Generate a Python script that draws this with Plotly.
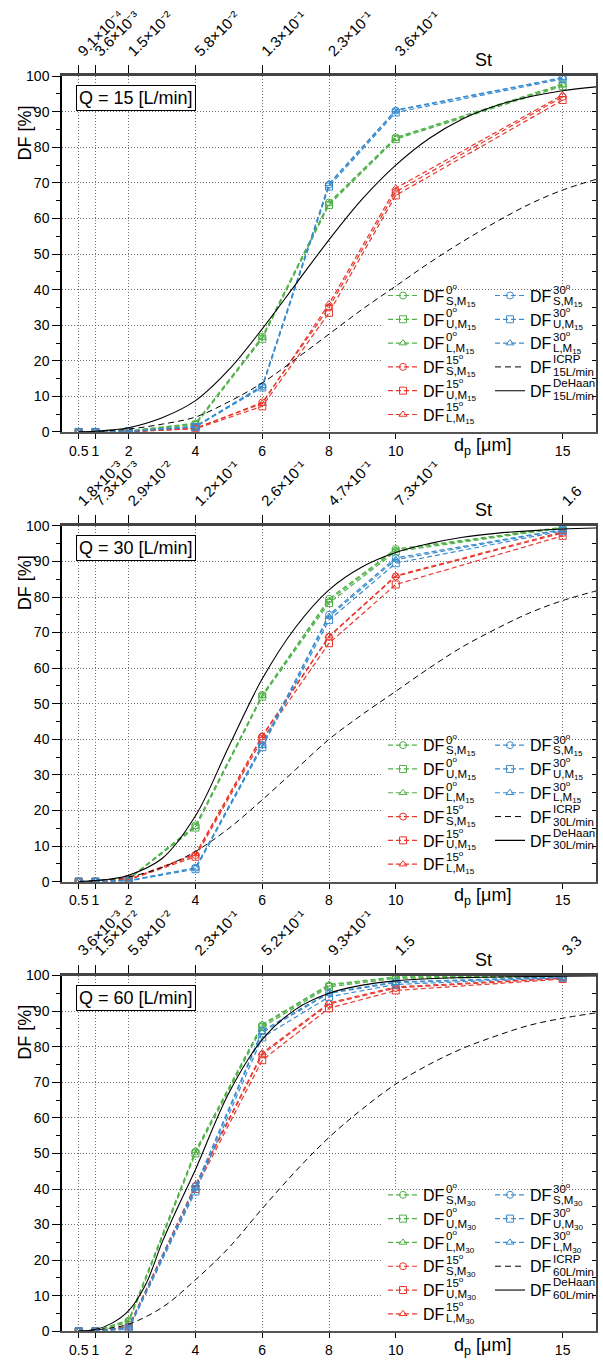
import plotly.graph_objects as go

W, H = 603, 1366
FONT = "Liberation Sans, Arial, Helvetica, sans-serif"

# ---------------- data ----------------
dp_ticks = [0.5, 1, 2, 4, 6, 8, 10, 15]
dp_tick_labels = ["0.5", "1", "2", "4", "6", "8", "10", "15"]
dp_meas = [0.5, 1, 2, 4, 6, 8, 10, 15]
dp_model = [0.5, 1, 1.5, 2, 3, 4, 5, 6, 7, 8, 9, 10, 11, 12, 13, 14, 15, 16]
dp_model_60 = [0.5, 1, 1.5, 2, 2.5, 3, 3.5, 4, 5, 6, 7, 8, 9, 10, 11, 12, 13, 14, 15, 16]

st_15 = ["9.1×10⁻⁴", "3.6×10⁻³", "1.5×10⁻²", "5.8×10⁻²",
         "1.3×10⁻¹", "2.3×10⁻¹", "3.6×10⁻¹", "8.2×10⁻¹"]
st_30 = ["1.8×10⁻³", "7.3×10⁻³", "2.9×10⁻²", "1.2×10⁻¹",
         "2.6×10⁻¹", "4.7×10⁻¹", "7.3×10⁻¹", "1.6"]
st_60 = ["3.6×10⁻³", "1.5×10⁻²", "5.8×10⁻²", "2.3×10⁻¹",
         "5.2×10⁻¹", "9.3×10⁻¹", "1.5", "3.3"]

# Q = 15 L/min
df15_0S = [0, 0, 0.3, 2.3, 26.8, 64.5, 82.8, 97.8]
df15_0U = [0, 0, 0.2, 2.0, 26.2, 63.8, 82.3, 97.2]
df15_0L = [0, 0, 0.3, 2.5, 26.5, 64.2, 82.5, 97.5]
df15_15S = [0, 0, 0.1, 1.0, 8.3, 35.0, 67.5, 94.2]
df15_15U = [0, 0, 0.1, 0.9, 7.2, 33.5, 66.5, 93.3]
df15_15L = [0, 0, 0.1, 1.1, 8.0, 36.0, 68.5, 94.7]
df15_30S = [0, 0, 0.2, 1.5, 12.8, 69.5, 90.3, 99.5]
df15_30U = [0, 0, 0.2, 1.4, 12.5, 69.0, 89.8, 99.2]
df15_30L = [0, 0, 0.2, 1.6, 13.0, 69.8, 90.5, 99.6]
icrp_15 = [0.0, 0.1, 0.4, 0.8, 2.2, 4.2, 8.5, 13.8, 20.5, 27.5, 34.5, 41.0, 47.5, 53.5, 59.0, 64.0, 68.0, 71.0]
dehaan_15 = [0.0, 0.2, 0.6, 1.2, 4.0, 8.8, 17.5, 29.0, 41.5, 54.0, 65.5, 75.0, 82.5, 88.0, 91.7, 94.2, 95.9, 97.0]

# Q = 30 L/min
df30_0S = [0, 0, 0.8, 15.8, 52.5, 79.5, 93.5, 99.6]
df30_0U = [0, 0, 0.7, 15.2, 52.0, 78.3, 92.8, 99.4]
df30_0L = [0, 0, 0.8, 15.5, 52.3, 79.0, 93.2, 99.5]
df30_15S = [0, 0, 0.6, 7.5, 40.8, 68.8, 85.8, 98.0]
df30_15U = [0, 0, 0.5, 7.0, 40.0, 67.0, 83.5, 97.2]
df30_15L = [0, 0, 0.6, 7.8, 41.0, 69.0, 86.0, 98.3]
df30_30S = [0, 0, 0.3, 3.9, 38.5, 75.0, 91.0, 99.0]
df30_30U = [0, 0, 0.2, 3.5, 37.8, 73.5, 89.5, 98.6]
df30_30L = [0, 0, 0.3, 3.8, 38.2, 74.5, 90.5, 98.9]
icrp_30 = [0.0, 0.3, 0.7, 1.3, 4.0, 8.5, 15.0, 23.0, 31.5, 40.0, 47.0, 53.5, 60.0, 66.0, 71.0, 75.5, 79.0, 81.7]
dehaan_30 = [0.0, 0.3, 0.8, 1.8, 6.5, 18.5, 38.0, 57.0, 71.5, 82.0, 88.5, 92.5, 95.0, 96.8, 97.9, 98.6, 99.1, 99.4]

# Q = 60 L/min
df60_0S = [0, 0.1, 3.0, 50.5, 86.0, 97.2, 99.5, 99.8]
df60_0U = [0, 0.1, 2.5, 50.0, 85.5, 96.8, 99.2, 99.7]
df60_0L = [0, 0.1, 3.2, 50.8, 86.3, 97.5, 99.6, 99.9]
df60_15S = [0, 0, 1.3, 40.8, 77.8, 92.0, 96.5, 99.2]
df60_15U = [0, 0, 1.0, 40.0, 76.2, 90.8, 95.8, 99.0]
df60_15L = [0, 0, 1.4, 41.2, 78.2, 92.3, 96.8, 99.3]
df60_30S = [0, 0, 1.2, 40.8, 84.5, 95.2, 98.2, 99.6]
df60_30U = [0, 0, 0.6, 39.3, 82.6, 94.0, 97.5, 99.4]
df60_30L = [0, 0, 1.0, 40.2, 84.0, 95.0, 98.0, 99.5]
icrp_60 = [0.0, 0.4, 1.0, 2.0, 6.7, 14.5, 23.5, 34.5, 45.0, 54.5, 62.5, 69.5, 75.0, 79.5, 83.0, 86.0, 88.0, 89.5]
dehaan_60 = [0.1, 0.5, 2.3, 5.8, 13.0, 25.0, 35.5, 45.5, 67.0, 82.0, 90.5, 95.0, 97.3, 98.5, 99.1, 99.4, 99.6, 99.7, 99.8, 99.9]

flow_rates = ["15", "30", "60"]
model_sub = ["15", "15", "30"]

# ---------------- style ----------------
GREEN = "#52b24a"
RED = "#e8372c"
BLUE = "#3a8cce"
GRID = "#6f6f6f"
GRID_DASH = "1px,2px"
PX_PLOT_L, PX_PLOT_R = 62, 596
PANEL_TOP, PANEL_BOT, PANEL_STEP = 69, 429, 455
LEG_FONT = 16
ROW_H = LEG_FONT * 1.3 + 3


def px_x(px):
    return px / W


def px_y(py):
    return 1 - py / H


panels = [
    dict(st=st_15, ang0=[df15_0S, df15_0U, df15_0L], ang15=[df15_15S, df15_15U, df15_15L],
         ang30=[df15_30S, df15_30U, df15_30L], icrp=(dp_model, icrp_15), dehaan=(dp_model, dehaan_15)),
    dict(st=st_30, ang0=[df30_0S, df30_0U, df30_0L], ang15=[df30_15S, df30_15U, df30_15L],
         ang30=[df30_30S, df30_30U, df30_30L], icrp=(dp_model, icrp_30), dehaan=(dp_model, dehaan_30)),
    dict(st=st_60, ang0=[df60_0S, df60_0U, df60_0L], ang15=[df60_15S, df60_15U, df60_15L],
         ang30=[df60_30S, df60_30U, df60_30L], icrp=(dp_model, icrp_60), dehaan=(dp_model_60, dehaan_60)),
]

fig = go.Figure()
layout = dict(
    width=W, height=H, margin=dict(l=0, r=0, t=0, b=0),
    paper_bgcolor="white", plot_bgcolor="white",
    font=dict(family=FONT, size=14, color="black"),
    showlegend=True,
)
annotations = []
shapes = []

symbols = ["circle-open", "square-open", "triangle-up-open"]
positions = ["S", "U", "L"]

for k, p in enumerate(panels):
    i = k + 1
    xs = "" if i == 1 else str(i)
    xname, yname = "x" + xs, "y" + xs
    top_x, right_y = "x" + str(i + 3), "y" + str(i + 3)
    top = PANEL_TOP + k * PANEL_STEP
    bot = PANEL_BOT + k * PANEL_STEP
    ydom = [px_y(bot), px_y(top)]
    xdom = [px_x(PX_PLOT_L), px_x(PX_PLOT_R)]
    leg1 = "legend" if k == 0 else "legend" + str(2 * k + 1)
    leg2 = "legend" + str(2 * k + 2)

    layout["xaxis" + xs] = dict(
        domain=xdom, anchor=yname, range=[0, 16], tickmode="array", tickvals=dp_ticks,
        ticktext=dp_tick_labels, ticks="outside", ticklen=5, tickcolor="black",
        showgrid=True, gridcolor=GRID, griddash=GRID_DASH, gridwidth=1, zeroline=False,
        showline=True, linecolor="#555", linewidth=2, tickfont=dict(size=14),
    )
    layout["yaxis" + xs] = dict(
        domain=ydom, anchor=xname, range=[0, 100], dtick=10, tick0=0, ticks="outside",
        ticklen=8, tickcolor="black", showgrid=True, gridcolor=GRID, griddash=GRID_DASH,
        gridwidth=1, zeroline=False, showline=True, linecolor="black", linewidth=1.5,
        tickfont=dict(size=14),
        minor=dict(ticks="outside", ticklen=4, dtick=5, tickcolor="black", showgrid=False),
    )
    layout["xaxis" + str(i + 3)] = dict(
        overlaying=xname, anchor=yname, side="top", range=[0, 16], tickmode="array",
        tickvals=dp_ticks, ticktext=p["st"], tickangle=-45, ticks="outside", ticklen=8,
        tickcolor="black", showgrid=False, zeroline=False, showline=True,
        linecolor="#444", linewidth=2.5, tickfont=dict(size=15),
    )
    layout["yaxis" + str(i + 3)] = dict(
        overlaying=yname, anchor=xname, side="right", range=[0, 100], dtick=5, tick0=0,
        ticks="inside", ticklen=4, tickcolor="black", showticklabels=False, showgrid=False,
        zeroline=False, showline=True, linecolor="#444", linewidth=2,
    )
    # empty traces so that the top St axis and the right axis are drawn
    fig.add_trace(go.Scatter(x=[None], y=[None], xaxis=top_x, yaxis=yname, showlegend=False,
                             hoverinfo="skip", mode="lines"))
    fig.add_trace(go.Scatter(x=[None], y=[None], xaxis=xname, yaxis=right_y, showlegend=False,
                             hoverinfo="skip", mode="lines"))

    # measured series
    groups = [("0", GREEN, p["ang0"], leg1), ("15", RED, p["ang15"], leg1), ("30", BLUE, p["ang30"], leg2)]
    for ang, color, series, leg in groups:
        for pos, sym, vals in zip(positions, symbols, series):
            fig.add_trace(go.Scatter(
                x=dp_meas, y=vals, mode="lines+markers", name="DF", legend=leg,
                xaxis=xname, yaxis=yname,
                line=dict(color=color, width=1.2, dash="5px,3px"),
                marker=dict(symbol=sym, size=7, color=color, line=dict(width=1, color=color)),
            ))
    fig.add_trace(go.Scatter(
        x=p["icrp"][0], y=p["icrp"][1], mode="lines", name="DF", legend=leg2,
        xaxis=xname, yaxis=yname, line=dict(color="black", width=1, dash="6px,4px", shape="spline"),
    ))
    fig.add_trace(go.Scatter(
        x=p["dehaan"][0], y=p["dehaan"][1], mode="lines", name="DF", legend=leg2,
        xaxis=xname, yaxis=yname, line=dict(color="black", width=1.1, shape="spline"),
    ))

    # legends (two columns)
    row1 = 290.7 + k * PANEL_STEP
    box_top = row1 - 5 - ROW_H / 2
    col_left = [383, 490]
    for leg, cl in zip([leg1, leg2], col_left):
        layout[leg] = dict(
            x=px_x(cl), y=px_y(box_top), xanchor="left", yanchor="top",
            bgcolor="rgba(0,0,0,0)", borderwidth=0, font=dict(size=LEG_FONT, family=FONT),
            itemwidth=30, tracegroupgap=0, orientation="v",
        )
    q = flow_rates[k]
    m = model_sub[k]
    col1_scripts = [(f"{a}<sup>o</sup>", f"{s},M<sub>{m}</sub>") for a in ["0", "15"] for s in positions]
    col2_scripts = [(f"30<sup>o</sup>", f"{s},M<sub>{m}</sub>") for s in positions]
    col2_scripts += [("ICRP", f"{q}L/min"), ("DeHaan", f"{q}L/min")]
    for cl, scripts in zip(col_left, [col1_scripts, col2_scripts]):
        xs_px = cl + 40 + 21.5
        for j, (sup, sub) in enumerate(scripts):
            c = row1 + j * ROW_H
            annotations.append(dict(
                x=px_x(xs_px), y=px_y(c - 6.5), xref="paper", yref="paper", text=sup,
                showarrow=False, xanchor="left", yanchor="middle", font=dict(size=11.5), borderpad=0,
            ))
            annotations.append(dict(
                x=px_x(xs_px), y=px_y(c + 6.5), xref="paper", yref="paper", text=sub,
                showarrow=False, xanchor="left", yanchor="middle", font=dict(size=11.5), borderpad=0,
            ))

    # white area hiding the grid behind the legend
    shapes.append(dict(
        type="rect", xref=xname, yref=yname, x0=(383 - PX_PLOT_L) / ((PX_PLOT_R - PX_PLOT_L) / 16),
        x1=16, y0=0, y1=(429 - 287) / 3.6, fillcolor="white", line=dict(width=0), layer="between",
    ))

    # Q box
    annotations.append(dict(
        x=px_x(76), y=px_y(top + 22.5), xref="paper", yref="paper",
        text=f"Q = {q} [L/min]", showarrow=False, xanchor="left", yanchor="middle",
        font=dict(size=18), bgcolor="white", bordercolor="black", borderwidth=1, borderpad=2,
    ))
    # St title
    annotations.append(dict(
        x=px_x(483), y=px_y(top - 16), xref="paper", yref="paper", text="St",
        showarrow=False, xanchor="center", yanchor="middle", font=dict(size=18),
    ))
    # dp title
    annotations.append(dict(
        x=px_x(482), y=px_y(bot + 15), xref="paper", yref="paper", text="d<sub>p</sub> [μm]",
        showarrow=False, xanchor="center", yanchor="middle", font=dict(size=18),
    ))
    # DF title
    annotations.append(dict(
        x=px_x(25), y=px_y(top + 58), xref="paper", yref="paper", text="DF [%]",
        showarrow=False, xanchor="center", yanchor="middle", textangle=-90, font=dict(size=18),
    ))

layout["annotations"] = annotations
layout["shapes"] = shapes
fig.update_layout(**layout)
fig.write_html("out.html")
